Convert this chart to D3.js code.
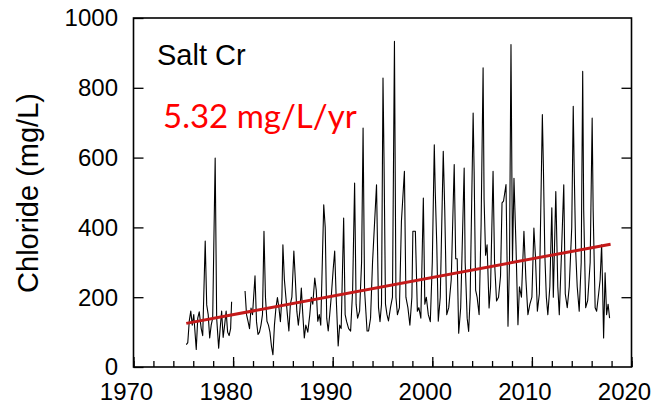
<!DOCTYPE html>
<html>
<head>
<meta charset="utf-8">
<script src="https://cdn.jsdelivr.net/npm/d3@7"></script>
<style>
  body { margin: 0; background: #fff; }
  svg text { font-family: "Liberation Sans", Arial, sans-serif; }
</style>
</head>
<body>
<div id="chart"></div>
<script>
const width = 652;
const height = 406;

// sample dates (decimal year) and chloride values (mg/L); null = gap in record
const dates = [
  1975.3, 1975.45, 1975.6, 1975.75, 1975.9, 1976.05, 1976.3, 1976.45, 1976.6, 1976.8, 1976.95,
  1977.2, 1977.35, 1977.5, 1977.65, 1977.8, 1977.95, 1978.2, 1978.35, 1978.55, 1978.7, 1978.85,
  1979.0, 1979.15, 1979.3, 1979.45, 1979.6, 1979.75, 1979.85, 1980.5,
  1981.2, 1981.35, 1981.5, 1981.65, 1981.8, 1981.95, 1982.2, 1982.35, 1982.5, 1982.65, 1982.8, 1982.95,
  1983.1, 1983.25, 1983.4, 1983.55, 1983.7, 1983.85, 1984.0, 1984.15, 1984.3, 1984.45, 1984.6, 1984.75, 1984.9,
  1985.0, 1985.15, 1985.3, 1985.45, 1985.6, 1985.75, 1985.9, 1986.1, 1986.25, 1986.4, 1986.55, 1986.7, 1986.85,
  1987.0, 1987.15, 1987.3, 1987.5, 1987.7, 1987.85, 1988.0, 1988.2, 1988.35, 1988.5, 1988.65, 1988.8,
  1989.1, 1989.25, 1989.4, 1989.55, 1989.7, 1989.85, 1990.05, 1990.2, 1990.35, 1990.55, 1990.7, 1990.85,
  1991.1, 1991.25, 1991.4, 1991.6, 1991.8, 1992.0, 1992.2, 1992.35, 1992.5, 1992.7, 1992.9,
  1993.05, 1993.2, 1993.45, 1993.6, 1993.8, 1994.0, 1994.4, 1994.6, 1994.75, 1994.9,
  1995.05, 1995.15, 1995.3, 1995.45, 1995.6, 1995.8, 1996.0, 1996.2, 1996.35, 1996.5, 1996.7, 1996.9,
  1997.2, 1997.35, 1997.55, 1997.75, 1997.95, 1998.05, 1998.3, 1998.5, 1998.65, 1998.85,
  1999.1, 1999.25, 1999.4, 1999.6, 1999.8, 2000.0, 2000.2, 2000.3, 2000.45, 2000.6, 2000.8,
  2001.1, 2001.25, 2001.45, 2001.65, 2001.9, 2002.2, 2002.35, 2002.5, 2002.65, 2002.85,
  2003.2, 2003.3, 2003.5, 2003.65, 2003.8, 2004.1, 2004.2, 2004.35, 2004.5, 2004.7, 2004.9,
  2005.1, 2005.2, 2005.35, 2005.5, 2005.7, 2005.85, 2006.1, 2006.25, 2006.45, 2006.65, 2006.85,
  2007.0, 2007.15, 2007.4, 2007.6, 2007.75, 2007.9, 2008.05, 2008.2, 2008.4, 2008.6, 2008.75, 2008.95,
  2009.2, 2009.4, 2009.6, 2009.8, 2010.0, 2010.2, 2010.35, 2010.55, 2010.75,
  2011.05, 2011.15, 2011.3, 2011.45, 2011.6, 2011.8, 2012.0, 2012.15, 2012.25, 2012.4, 2012.6, 2012.75, 2012.95,
  2013.2, 2013.35, 2013.55, 2013.75, 2014.0, 2014.15, 2014.25, 2014.4, 2014.55, 2014.75, 2014.95,
  2015.1, 2015.2, 2015.4, 2015.6, 2015.85, 2016.05, 2016.15, 2016.35, 2016.5, 2016.7, 2016.85,
  2017.0, 2017.1, 2017.2, 2017.35, 2017.5, 2017.65, 2017.8
];
const chloride = [
  64, 70, 132, 160, 120, 150, 50, 140, 158, 110, 90,
  361, 178, 150, 83, 120, 140, 599, 140, 54, 110, 160,
  85, 120, 160, 100, 90, 110, 187, null,
  218, 150, 131, 110, 169, 150, 261, 130, 93, 100, 120, 150,
  389, 200, 131, 120, 100, 60, 35, 120, 169, 199, 170, 130, 200,
  350, 250, 200, 150, 103, 180, 200, 332, 250, 160, 120, 160, 226,
  150, 83, 120, 100, 150, 200, 180, 255, 220, 131, 150, 120,
  465, 400, 140, 103, 150, 200, 280, 332, 200, 60, 120, 110,
  427, 150, 130, 110, 103, 220, 527, 180, 140, 160, 300,
  685, 220, 103, 103, 140, 300, 522, 170, 130, 180,
  828, 600, 180, 150, 132, 170, 200, 933, 200, 150, 170, 417,
  561, 200, 170, 120, 200, 389, 389, 160, 170, 140,
  484, 180, 200, 150, 130, 300, 637, 500, 350, 131, 200,
  618, 450, 150, 170, 250, 580, 310, 310, 97, 170,
  570, 300, 140, 102, 200, 728, 561, 220, 200, 150, 408,
  857, 480, 320, 350, 169, 230, 561, 300, 189, 200, 260,
  470, 475, 523, 117, 300, 924, 300, 541, 350, 121, 230, 200,
  389, 250, 150, 180, 200, 398, 320, 160, 210,
  723, 580, 320, 200, 150, 230, 456, 200, 320, 503, 230, 150, 310,
  522, 210, 170, 230, 400, 747, 560, 330, 230, 160, 300,
  847, 450, 170, 190, 300, 713, 450, 170, 160, 210, 250,
  350, 230, 83, 270, 150, 180, 140
];

// linear trend (5.32 mg/L/yr)
const trendYears = [1975.3, 2017.9];
const trendValues = [125, 352];

const xTicks = [1970, 1980, 1990, 2000, 2010, 2020];
const xMinorTicks = d3.range(1970, 2021, 2);
const yTicks = [0, 200, 400, 600, 800, 1000];

const x0 = 133.5, x1 = 631.5, y0 = 367, y1 = 18;

const svg = d3.select("#chart")
    .append("svg")
    .attr("width", width)
    .attr("height", height);

const x = d3.scaleLinear().domain([1970, 2020]).range([x0, x1]);
const y = d3.scaleLinear().domain([0, 1000]).range([y0, y1]);

const series = dates.map((d, i) => ({ t: d, v: chloride[i] }));

// data line
const line = d3.line()
    .defined(d => d.v !== null)
    .x(d => x(d.t))
    .y(d => y(d.v));

svg.append("path")
    .datum(series)
    .attr("fill", "none")
    .attr("stroke", "#000")
    .attr("stroke-width", 1.1)
    .attr("stroke-linejoin", "round")
    .attr("d", line);

// trend line
svg.append("line")
    .attr("x1", x(trendYears[0]))
    .attr("y1", y(trendValues[0]))
    .attr("x2", x(trendYears[1]))
    .attr("y2", y(trendValues[1]))
    .attr("stroke", "#c41a1a")
    .attr("stroke-width", 3);

// axes: ticks point inward
svg.append("g")
    .attr("transform", `translate(0,${y0})`)
    .call(d3.axisTop(x).tickValues(xMinorTicks).tickSize(6).tickFormat(""))
    .call(g => g.select(".domain").remove())
    .call(g => g.selectAll("line").attr("stroke-width", 1.3));

svg.append("g")
    .attr("transform", `translate(0,${y0})`)
    .call(d3.axisTop(x).tickValues(xTicks).tickSize(10).tickFormat(""))
    .call(g => g.select(".domain").remove())
    .call(g => g.selectAll("line").attr("stroke-width", 1.3));

svg.append("g")
    .attr("transform", `translate(${x0},0)`)
    .call(d3.axisRight(y).tickValues(yTicks).tickSize(10).tickFormat(""))
    .call(g => g.select(".domain").remove())
    .call(g => g.selectAll("line").attr("stroke-width", 1.3));

svg.append("g")
    .attr("transform", `translate(${x1},0)`)
    .call(d3.axisLeft(y).tickValues(yTicks.slice(1, 5)).tickSize(10).tickFormat(""))
    .call(g => g.select(".domain").remove())
    .call(g => g.selectAll("line").attr("stroke-width", 1.3));

// tick labels
svg.append("g")
    .selectAll("text")
    .data(xTicks)
    .join("text")
    .attr("x", d => x(d) - 7)
    .attr("y", 400)
    .attr("text-anchor", "middle")
    .attr("font-size", 24)
    .text(d => d);

svg.append("g")
    .selectAll("text")
    .data(yTicks)
    .join("text")
    .attr("x", 118)
    .attr("y", d => y(d))
    .attr("dy", "0.35em")
    .attr("text-anchor", "end")
    .attr("font-size", 24)
    .text(d => d);

// frame
svg.append("rect")
    .attr("x", x0)
    .attr("y", y1)
    .attr("width", x1 - x0)
    .attr("height", y0 - y1)
    .attr("fill", "none")
    .attr("stroke", "#000")
    .attr("stroke-width", 1.6);

// y title
svg.append("text")
    .attr("transform", "translate(38,193) rotate(-90)")
    .attr("text-anchor", "middle")
    .attr("font-size", 29)
    .text("Chloride (mg/L)");

svg.append("text")
    .attr("x", 157)
    .attr("y", 65)
    .attr("font-size", 29)
    .text("Salt Cr");

svg.append("text")
    .attr("x", 163)
    .attr("y", 128)
    .attr("font-size", 33)
    .attr("fill", "#ff0000")
    .style("font-family", "Lato, 'Open Sans', sans-serif")
    .text("5.32 mg/L/yr");
</script>
</body>
</html>
